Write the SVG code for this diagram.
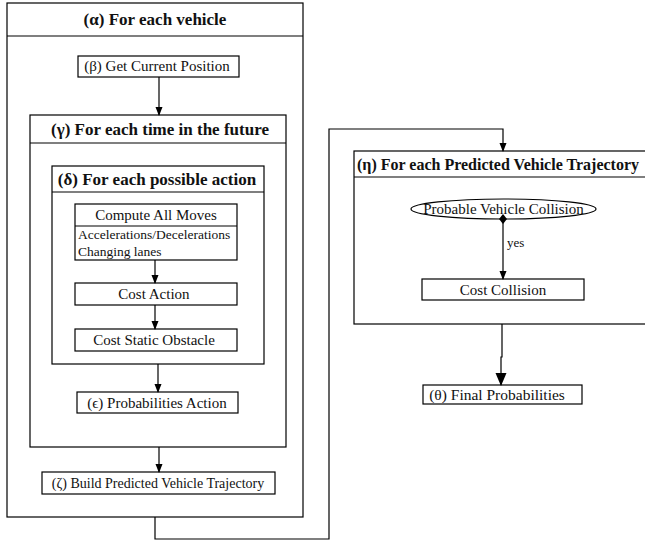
<svg xmlns="http://www.w3.org/2000/svg" width="645" height="541" viewBox="0 0 645 541">
<style>
rect,ellipse,line.sep{fill:#fff;stroke:#000;stroke-width:1.2}
.c{fill:none;stroke:#000;stroke-width:1.2}
text{font-family:"Liberation Serif","Times New Roman",serif;fill:#111}
.t{font-size:17px;font-weight:bold;text-anchor:middle}
.n{font-size:15px;text-anchor:middle}
.s{font-size:13.5px}
</style>
<defs>
<marker id="ah" markerWidth="9" markerHeight="10" refX="8" refY="3.5" orient="auto" markerUnits="userSpaceOnUse" viewBox="0 0 9 10">
<path d="M0,0 L9,3.5 L0,7 Z" fill="#000"/>
</marker>
<marker id="ahb" markerWidth="13" markerHeight="12" refX="12" refY="5.5" orient="auto" markerUnits="userSpaceOnUse" viewBox="0 0 13 12">
<path d="M0,0 L13,5.5 L0,11 Z" fill="#000"/>
</marker>
<marker id="dm" markerWidth="10" markerHeight="10" refX="5" refY="5" orient="auto" markerUnits="userSpaceOnUse" viewBox="0 0 10 10">
<path d="M0,5 L5,1 L10,5 L5,9 Z" fill="#000"/>
</marker>
</defs>
<g id="alpha">
<rect x="7" y="3" width="296" height="514"/>
<line class="sep" x1="7" y1="36" x2="303" y2="36"/>
<text class="t" x="155" y="25">(α) For each vehicle</text>
</g>
<g id="beta">
<rect x="78" y="56" width="161" height="21"/>
<text class="n" x="157" y="71">(β) Get Current Position</text>
</g>
<g id="gamma">
<rect x="30" y="115" width="256" height="332"/>
<line class="sep" x1="30" y1="143" x2="286" y2="143"/>
<text class="t" x="160" y="135">(γ) For each time in the future</text>
</g>
<g id="delta">
<rect x="52" y="166" width="212" height="198"/>
<line class="sep" x1="52" y1="192" x2="264" y2="192"/>
<text class="t" x="157" y="185">(δ) For each possible action</text>
</g>
<g id="compute">
<rect x="75" y="204" width="162" height="56"/>
<line class="sep" x1="75" y1="226" x2="237" y2="226"/>
<text class="n" x="156" y="220">Compute All Moves</text>
<text class="s" x="78" y="239">Accelerations/Decelerations</text>
<text class="s" x="78" y="256">Changing lanes</text>
</g>
<g id="costaction">
<rect x="75" y="283" width="162" height="22"/>
<text class="n" x="154" y="299">Cost Action</text>
</g>
<g id="costobstacle">
<rect x="75" y="329" width="162" height="22"/>
<text class="n" x="154" y="345">Cost Static Obstacle</text>
</g>
<g id="epsilon">
<rect x="77" y="392" width="161" height="21"/>
<text class="n" x="157" y="408">(ϵ) Probabilities Action</text>
</g>
<g id="zeta">
<rect x="42" y="472" width="233" height="22"/>
<text class="n" x="158" y="488" style="font-size:14px">(ζ) Build Predicted Vehicle Trajectory</text>
</g>
<g id="eta">
<rect x="354" y="151" width="300" height="173"/>
<line class="sep" x1="354" y1="177" x2="654" y2="177"/>
<text class="t" x="498" y="170" style="font-size:16px">(η) For each Predicted Vehicle Trajectory</text>
</g>
<g id="collisionq">
<ellipse cx="503.5" cy="209" rx="92.5" ry="10"/>
<text class="n" x="503.5" y="214">Probable Vehicle Collision</text>
</g>
<g id="costcollision">
<rect x="422" y="279" width="162" height="21"/>
<text class="n" x="503" y="295">Cost Collision</text>
</g>
<g id="theta">
<rect x="423" y="385" width="159" height="19"/>
<text class="n" x="497" y="400" style="font-size:15.5px">(θ) Final Probabilities</text>
</g>
<g id="connectors">
<path class="c" d="M159,77 V115" marker-end="url(#ah)"/>
<path class="c" d="M155,260 V283" marker-end="url(#ah)"/>
<path class="c" d="M155,305 V329" marker-end="url(#ah)"/>
<path class="c" d="M158,364 V392" marker-end="url(#ah)"/>
<path class="c" d="M159,447 V472" marker-end="url(#ah)"/>
<path class="c" d="M155,517 V539 H329 V129 H503 V151" marker-end="url(#ah)"/>
<path class="c" d="M503,219 V279" marker-start="url(#dm)" marker-end="url(#ah)"/>
<text class="s" x="507" y="247" style="font-size:13px">yes</text>
<path class="c" d="M502,324 V357 H501 V385" marker-end="url(#ahb)"/>
</g>
</svg>
